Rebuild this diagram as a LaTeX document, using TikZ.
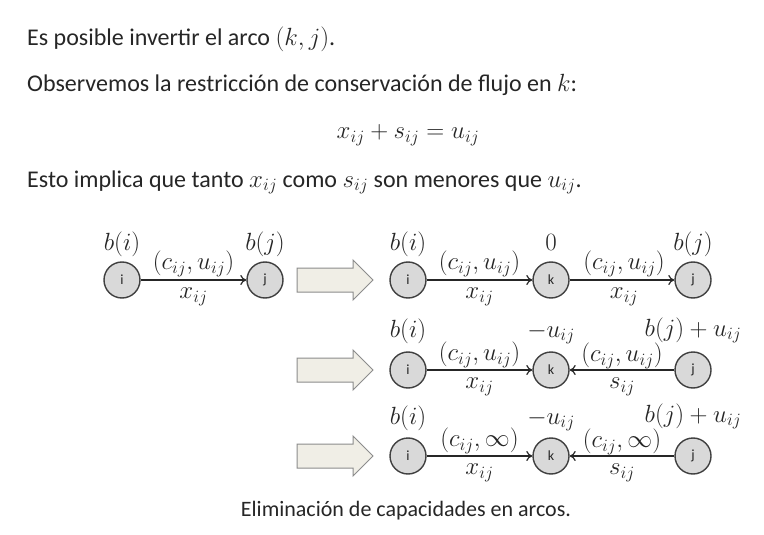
\documentclass[tikz,border=0pt]{standalone}
\usepackage[no-math]{fontspec}
\setmainfont{Carlito}
\usetikzlibrary{arrows.meta}
\definecolor{vtxfill}{HTML}{D9D9D9}
\definecolor{vtxline}{HTML}{404040}
\definecolor{edgecol}{HTML}{262626}
\definecolor{arrfill}{HTML}{F0EEE6}
\definecolor{arrline}{HTML}{8C8C8C}
\definecolor{txtcol}{HTML}{262626}
\begin{document}
\begin{tikzpicture}[x=1pt,y=-1pt,
  txt/.style={anchor=base west, inner sep=0, text=txtcol, font=\fontsize{24}{28}\selectfont},
  vtx/.style={circle, draw=vtxline, fill=vtxfill, line width=1.4pt, minimum size=36pt, inner sep=0, text=txtcol, font=\fontsize{14}{16}\selectfont},
  lab/.style={anchor=base, inner sep=0, text=txtcol, font=\fontsize{24}{28}\selectfont},
  edge/.style={draw=edgecol, line width=1.2pt, -{To[length=6pt,width=10pt]}},
  elab/.style={inner sep=0, text=txtcol, font=\fontsize{24}{28}\selectfont},
  barrow/.style={draw=arrline, fill=arrfill, line width=1pt}]
\useasboundingbox[fill=white] (0,0) rectangle (764,535);

% text
\node[txt] (t1) at (27,46) {Es posible invertir el arco $(k,j)$.};
\node[txt] (t2) at (27,92) {Observemos la restricción de conservación de flujo en $k$:};
\node[lab] (eq) at (408,139) {$x_{ij}+s_{ij}=u_{ij}$};
\node[txt] (t4) at (27,187) {Esto implica que tanto $x_{ij}$ como $s_{ij}$ son menores que $u_{ij}$.};

% row 1 left
\node[vtx] (i0) at (122,280) {i};
\node[vtx] (j0) at (265,280) {j};
\node[lab] (bi0) at ([yshift=30pt]i0.center) {$b(i)$};
\node[lab] (bj0) at ([yshift=30pt]j0.center) {$b(j)$};
\draw[edge] (i0) -- node[midway, above=3pt, elab] {$(c_{ij},u_{ij})$} node[midway, below=7pt, elab] {$x_{ij}$} (j0);

% block arrows
\foreach \yy in {280,370,456} {
  \draw[barrow] (297,\yy-12) -- (353,\yy-12) -- (353,\yy-20) -- (373,\yy) -- (353,\yy+20) -- (353,\yy+12) -- (297,\yy+12) -- cycle;
}

% row 1 right
\node[vtx] (i1) at (408,280) {i};
\node[vtx] (k1) at (551,280) {k};
\node[vtx] (j1) at (693,280) {j};
\node[lab] (bi1) at ([yshift=30pt]i1.center) {$b(i)$};
\node[lab] (bk1) at ([yshift=30pt]k1.center) {$0$};
\node[lab] (bj1) at ([yshift=30pt]j1.center) {$b(j)$};
\draw[edge] (i1) -- node[midway, above=3pt, elab] {$(c_{ij},u_{ij})$} node[midway, below=7pt, elab] {$x_{ij}$} (k1);
\draw[edge] (k1) -- node[midway, above=3pt, elab, xshift=2pt] {$(c_{ij},u_{ij})$} node[midway, below=7pt, elab, xshift=2pt] {$x_{ij}$} (j1);

% row 2
\node[vtx] (i2) at (408,370) {i};
\node[vtx] (k2) at (551,370) {k};
\node[vtx] (j2) at (693,370) {j};
\node[lab] (bi2) at ([yshift=33pt]i2.center) {$b(i)$};
\node[lab] (bk2) at ([yshift=33pt]k2.center) {$-u_{ij}$};
\node[lab] (bj2) at ([yshift=34pt]j2.center) {$b(j)+u_{ij}$};
\draw[edge] (i2) -- node[midway, above=2pt, elab] {$(c_{ij},u_{ij})$} node[midway, below=7pt, elab] {$x_{ij}$} (k2);
\draw[edge] (j2) -- node[midway, above=1pt, elab] {$(c_{ij},u_{ij})$} node[midway, below=7pt, elab] {$s_{ij}$} (k2);

% row 3
\node[vtx] (i3) at (408,456) {i};
\node[vtx] (k3) at (551,456) {k};
\node[vtx] (j3) at (693,456) {j};
\node[lab] (bi3) at ([yshift=32pt]i3.center) {$b(i)$};
\node[lab] (bk3) at ([yshift=32pt]k3.center) {$-u_{ij}$};
\node[lab] (bj3) at ([yshift=34pt]j3.center) {$b(j)+u_{ij}$};
\draw[edge] (i3) -- node[midway, above=2pt, elab] {$(c_{ij},\infty)$} node[midway, below=7pt, elab] {$x_{ij}$} (k3);
\draw[edge] (j3) -- node[midway, above=1pt, elab] {$(c_{ij},\infty)$} node[midway, below=7pt, elab] {$s_{ij}$} (k3);

% caption
\node[lab, font=\fontsize{22}{26}\selectfont] (cap) at (406,516) {Eliminación de capacidades en arcos.};
\end{tikzpicture}
\end{document}
